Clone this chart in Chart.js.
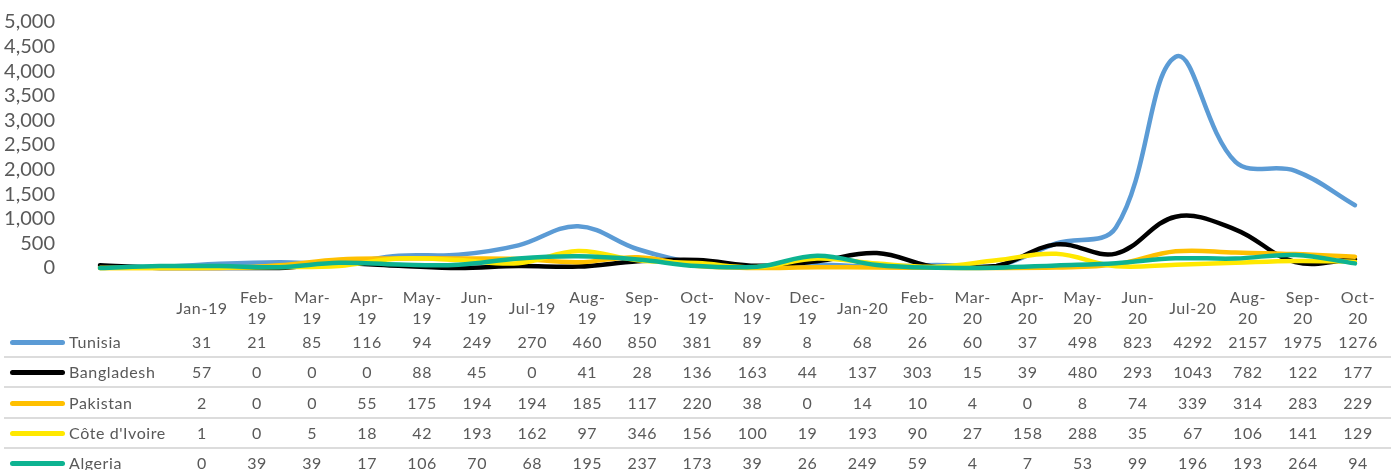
<!DOCTYPE html>
<html>
<head>
<meta charset="utf-8">
<script src="https://cdn.jsdelivr.net/npm/chart.js@4/dist/chart.umd.min.js"></script>
<style>
  html, body { margin: 0; padding: 0; background: #ffffff; }
  body { width: 1391px; height: 470px; overflow: hidden; position: relative; font-family: Lato, "Noto Sans", sans-serif; color: #595959; }
  #wrap { position: absolute; left: 0; top: 0; width: 1391px; height: 290px; }
  #table { position: absolute; left: 0; top: 0; width: 1391px; height: 470px; }
  .cell { position: absolute; width: 56px; text-align: center; font-size: 16px; letter-spacing: 0.6px; line-height: 21px; white-space: nowrap; }
  .rowlbl { position: absolute; left: 69px; font-size: 16px; letter-spacing: 0.6px; line-height: 21px; white-space: nowrap; }
  .key { position: absolute; left: 10px; width: 55px; height: 5px; border-radius: 2.5px; }
  .sep { position: absolute; left: 4px; width: 1387px; height: 2px; background: #dcdcdc; }
</style>
</head>
<body>
<div id="wrap"><canvas id="c" width="1391" height="290"></canvas></div>
<div id="table"></div>
<script>
const categories = ["Jan-19","Feb-19","Mar-19","Apr-19","May-19","Jun-19","Jul-19","Aug-19","Sep-19","Oct-19","Nov-19","Dec-19","Jan-20","Feb-20","Mar-20","Apr-20","May-20","Jun-20","Jul-20","Aug-20","Sep-20","Oct-20"];
const headerLabels = [["Jan-19"],["Feb-","19"],["Mar-","19"],["Apr-","19"],["May-","19"],["Jun-","19"],["Jul-19"],["Aug-","19"],["Sep-","19"],["Oct-","19"],["Nov-","19"],["Dec-","19"],["Jan-20"],["Feb-","20"],["Mar-","20"],["Apr-","20"],["May-","20"],["Jun-","20"],["Jul-20"],["Aug-","20"],["Sep-","20"],["Oct-","20"]];
const seriesNames = ["Tunisia","Bangladesh","Pakistan","Côte d'Ivoire","Algeria"];
const tunisia    = [31,21,85,116,94,249,270,460,850,381,89,8,68,26,60,37,498,823,4292,2157,1975,1276];
const bangladesh = [57,0,0,0,88,45,0,41,28,136,163,44,137,303,15,39,480,293,1043,782,122,177];
const pakistan   = [2,0,0,55,175,194,194,185,117,220,38,0,14,10,4,0,8,74,339,314,283,229];
const coteIvoire = [1,0,5,18,42,193,162,97,346,156,100,19,193,90,27,158,288,35,67,106,141,129];
const algeria    = [0,39,39,17,106,70,68,195,237,173,39,26,249,59,4,7,53,99,196,193,264,94];
const yTicks = [0,500,1000,1500,2000,2500,3000,3500,4000,4500,5000];

const seriesValues = [tunisia, bangladesh, pakistan, coteIvoire, algeria];
const colors = ["#5B9BD5","#000000","#FFC000","#FFE800","#0DB391"];

const datasets = seriesNames.map((n, i) => ({
  label: n,
  data: seriesValues[i],
  borderColor: colors[i],
  backgroundColor: colors[i],
  borderWidth: 4.5,
  pointRadius: 0,
  tension: 0.38,
  borderCapStyle: 'round',
  borderJoinStyle: 'round',
  fill: false,
  order: seriesNames.length - i,
  clip: false
}));

new Chart(document.getElementById('c'), {
  type: 'line',
  data: { labels: categories, datasets },
  options: {
    responsive: false,
    animation: false,
    events: [],
    layout: { padding: { left: 0, right: 36, top: 22, bottom: 22 } },
    plugins: { legend: { display: false }, tooltip: { enabled: false } },
    scales: {
      x: { display: false, offset: false },
      y: {
        min: 0, max: 5000,
        afterBuildTicks: (s) => { s.ticks = yTicks.map(v => ({ value: v })); },
        afterFit: (s) => { s.width = 100; s.paddingTop = 0; s.paddingBottom = 0; },
        grid: { display: false, drawTicks: false },
        border: { display: false },
        ticks: {
          padding: 45,
          autoSkip: false,
          color: '#595959',
          font: { family: 'Lato', size: 20 },
          callback: (v) => Number(v).toLocaleString('en-US')
        }
      }
    }
  }
});

// data table
const tbl = document.getElementById('table');
const colX0 = 202, colW = 55.05;
headerLabels.forEach((lines, i) => {
  const d = document.createElement('div');
  d.className = 'cell';
  d.style.left = (colX0 + i * colW - 28) + 'px';
  d.style.top = (lines.length === 1 ? 297 : 286) + 'px';
  d.innerHTML = lines.join('<br>');
  tbl.appendChild(d);
});
const rowY = [342, 372, 403, 433, 463];
seriesNames.forEach((n, r) => {
  const k = document.createElement('div');
  k.className = 'key';
  k.style.background = colors[r];
  k.style.top = (rowY[r] - 2) + 'px';
  tbl.appendChild(k);
  const l = document.createElement('div');
  l.className = 'rowlbl';
  l.style.top = (rowY[r] - 11) + 'px';
  l.textContent = n;
  tbl.appendChild(l);
  seriesValues[r].forEach((v, i) => {
    const d = document.createElement('div');
    d.className = 'cell';
    d.style.left = (colX0 + i * colW - 28) + 'px';
    d.style.top = (rowY[r] - 11) + 'px';
    d.textContent = String(v);
    tbl.appendChild(d);
  });
  if (r < seriesNames.length - 1) {
    const s = document.createElement('div');
    s.className = 'sep';
    s.style.top = (rowY[r] + 14) + 'px';
    tbl.appendChild(s);
  }
});
</script>
</body>
</html>
